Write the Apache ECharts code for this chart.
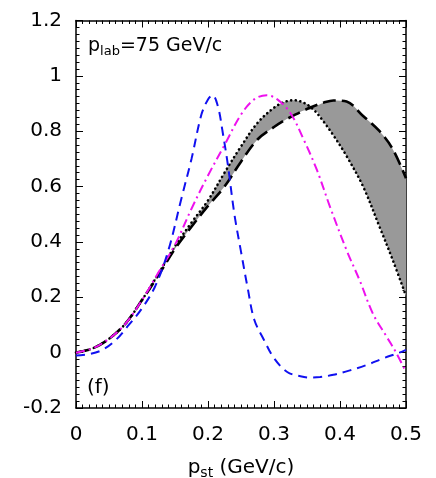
<!DOCTYPE html>
<html>
<head>
<meta charset="utf-8">
<script src="https://cdn.jsdelivr.net/npm/echarts@6/dist/echarts.min.js"></script>
<style>html,body{margin:0;padding:0;background:#fff}#c{width:436px;height:478px}</style>
</head>
<body>
<div id="c"></div>
<script>
// x ticks / y ticks
const xTicks = [0, 0.1, 0.2, 0.3, 0.4, 0.5];
const yTicks = [-0.2, 0, 0.2, 0.4, 0.6, 0.8, 1, 1.2];

// blue dashed curve
const blueX = [0, 0.02, 0.04, 0.06, 0.08, 0.1, 0.12, 0.14, 0.16, 0.175, 0.19, 0.2, 0.207, 0.215, 0.222, 0.23, 0.24, 0.25, 0.26, 0.27, 0.285, 0.3, 0.32, 0.34, 0.355, 0.37, 0.39, 0.415, 0.44, 0.466, 0.49, 0.5];
const blueY = [-0.01, -0.005, 0.01, 0.045, 0.1, 0.16, 0.24, 0.37, 0.56, 0.7, 0.86, 0.915, 0.93, 0.89, 0.8, 0.68, 0.5, 0.365, 0.235, 0.12, 0.045, -0.02, -0.07, -0.085, -0.09, -0.088, -0.08, -0.064, -0.045, -0.02, 0.0, 0.01];

// magenta dash-dot curve
const magX = [0, 0.025, 0.05, 0.075, 0.1, 0.125, 0.15, 0.175, 0.2, 0.225, 0.25, 0.27, 0.289, 0.305, 0.325, 0.345, 0.365, 0.385, 0.41, 0.43, 0.45, 0.47, 0.485, 0.5];
const magY = [0, 0.015, 0.05, 0.105, 0.19, 0.29, 0.39, 0.52, 0.64, 0.75, 0.86, 0.915, 0.93, 0.915, 0.865, 0.77, 0.66, 0.526, 0.37, 0.26, 0.14, 0.06, 0.0, -0.07];

// black band boundaries (dotted and long-dashed), shared x grid
const bandX = [0, 0.025, 0.05, 0.075, 0.1, 0.125, 0.15, 0.175, 0.2, 0.225, 0.25, 0.275, 0.3, 0.315, 0.33, 0.345, 0.36, 0.375, 0.39, 0.41, 0.435, 0.46, 0.48, 0.5];
const dottedY = [0, 0.015, 0.05, 0.105, 0.19, 0.285, 0.385, 0.47, 0.55, 0.65, 0.745, 0.83, 0.885, 0.905, 0.912, 0.903, 0.878, 0.835, 0.785, 0.71, 0.6, 0.454, 0.334, 0.205];
const dashedY = [0, 0.015, 0.05, 0.105, 0.19, 0.28, 0.375, 0.455, 0.53, 0.6, 0.69, 0.77, 0.815, 0.838, 0.857, 0.875, 0.89, 0.903, 0.911, 0.907, 0.855, 0.8, 0.735, 0.63];

const pairs = (xs, ys) => xs.map((x, i) => [x, ys[i]]);
const lowerY = bandX.map((x, i) => Math.min(dottedY[i], dashedY[i]));
const diffY = bandX.map((x, i) => Math.max(dottedY[i], dashedY[i]) - lowerY[i]);
const yx = (xs, ys) => xs.map((x, i) => [ys[i], x]);

const FONT = 'DejaVu Sans, sans-serif';
const chart = echarts.init(document.getElementById('c'), null, {renderer: 'canvas'});
const fmt = v => String(+v.toFixed(1));
const X0 = xTicks[0], X1 = xTicks[xTicks.length - 1];
const Y0 = yTicks[0], Y1 = yTicks[yTicks.length - 1];
const GL = 76, GR = 30, GT = 20.5, GB = 70;
const GW = 436 - GL - GR, GH = 478 - GT - GB;
const GRID = {left: GL, right: GR, top: GT, bottom: GB, containLabel: false, outerBoundsMode: 'none'};
function mkAxis(extra, split, ticks, inside) {
  return Object.assign({
    type: 'value',
    axisLine: {show: true, onZero: false, lineStyle: {color: '#000', width: 1.5}},
    axisTick: {show: ticks, inside: inside, length: 7, lineStyle: {color: '#000', width: 1}},
    minorTick: {show: ticks, splitNumber: split, length: 3.5, lineStyle: {color: '#000', width: 1}},
    splitLine: {show: false},
    minorSplitLine: {show: false}
  }, extra);
}
const SM = 0.35;
chart.setOption({
  animation: false,
  backgroundColor: '#fff',
  grid: [Object.assign({}, GRID), Object.assign({}, GRID)],
  xAxis: [
    mkAxis({
      gridIndex: 0, min: X0, max: X1, interval: 0.1,
      axisLabel: {color: '#000', fontSize: 20, fontFamily: FONT, margin: 17, formatter: fmt},
      name: 'p{s|st} (GeV/c)', nameLocation: 'middle', nameGap: 48,
      nameTextStyle: {color: '#000', fontSize: 20, fontFamily: FONT,
        rich: {s: {fontSize: 14, fontFamily: FONT, color: '#000', padding: [10, 0, 0, 0]}}}
    }, 10, false, true),
    mkAxis({gridIndex: 0, position: 'top', min: X0, max: X1, interval: 0.1, axisLabel: {show: false}}, 10, true, true),
    // top-type axis shifted onto the bottom edge; outward ticks point up into the plot
    mkAxis({gridIndex: 1, position: 'top', offset: -GH, min: X0, max: X1, interval: 0.1,
            axisLine: {show: false, onZero: false}, axisLabel: {show: false}}, 10, true, false)
  ],
  yAxis: [
    mkAxis({
      gridIndex: 0, min: Y0, max: Y1, interval: 0.2,
      axisLabel: {color: '#000', fontSize: 20, fontFamily: FONT, margin: 14, formatter: fmt}
    }, 8, false, true),
    mkAxis({gridIndex: 0, position: 'right', min: Y0, max: Y1, interval: 0.2, axisLabel: {show: false}}, 8, true, true),
    // right-type axis shifted onto the left edge; outward ticks point right into the plot
    mkAxis({gridIndex: 1, position: 'right', offset: -GW, min: Y0, max: Y1, interval: 0.2,
            axisLine: {show: false, onZero: false}, axisLabel: {show: false}}, 8, true, false)
  ],
  graphic: [
    {type: 'text', left: 88, top: 37, style: {
      text: '{a|p}{b|lab}{a|=75 GeV/c}',
      rich: {a: {fontSize: 19, fontFamily: FONT, fill: '#000'},
             b: {fontSize: 13, fontFamily: FONT, fill: '#000', padding: [10, 0, 0, 0]}}
    }},
    {type: 'text', left: 87, top: 378, style: {text: '(f)', fontSize: 20, fontFamily: FONT, fill: '#000'}}
  ],
  series: [
    {type: 'line', data: yx(bandX, lowerY), encode: {x: 1, y: 0}, stack: 'band', smooth: SM, symbol: 'none',
     lineStyle: {width: 0, opacity: 0}, areaStyle: {opacity: 0}, z: 1},
    {type: 'line', data: yx(bandX, diffY), encode: {x: 1, y: 0}, stack: 'band', smooth: SM, symbol: 'none',
     lineStyle: {width: 0, opacity: 0}, areaStyle: {color: '#999999', opacity: 1}, z: 1},
    {type: 'line', data: pairs(bandX, dottedY), smooth: SM, symbol: 'none', z: 3,
     lineStyle: {color: '#000', width: 2.6, type: [0.1, 4.5], cap: 'round'}},
    {type: 'line', data: pairs(bandX, dashedY), smooth: SM, symbol: 'none', z: 3,
     lineStyle: {color: '#000', width: 2.6, type: [13, 6]}},
    {type: 'line', data: pairs(magX, magY), smooth: SM, symbol: 'none', z: 4,
     lineStyle: {color: '#ee11ee', width: 2, type: [9, 4, 2, 4]}},
    {type: 'line', data: pairs(blueX, blueY), smooth: SM, symbol: 'none', z: 4,
     lineStyle: {color: '#1010f0', width: 2, type: [9, 6]}}
  ]
});
</script>
</body>
</html>
